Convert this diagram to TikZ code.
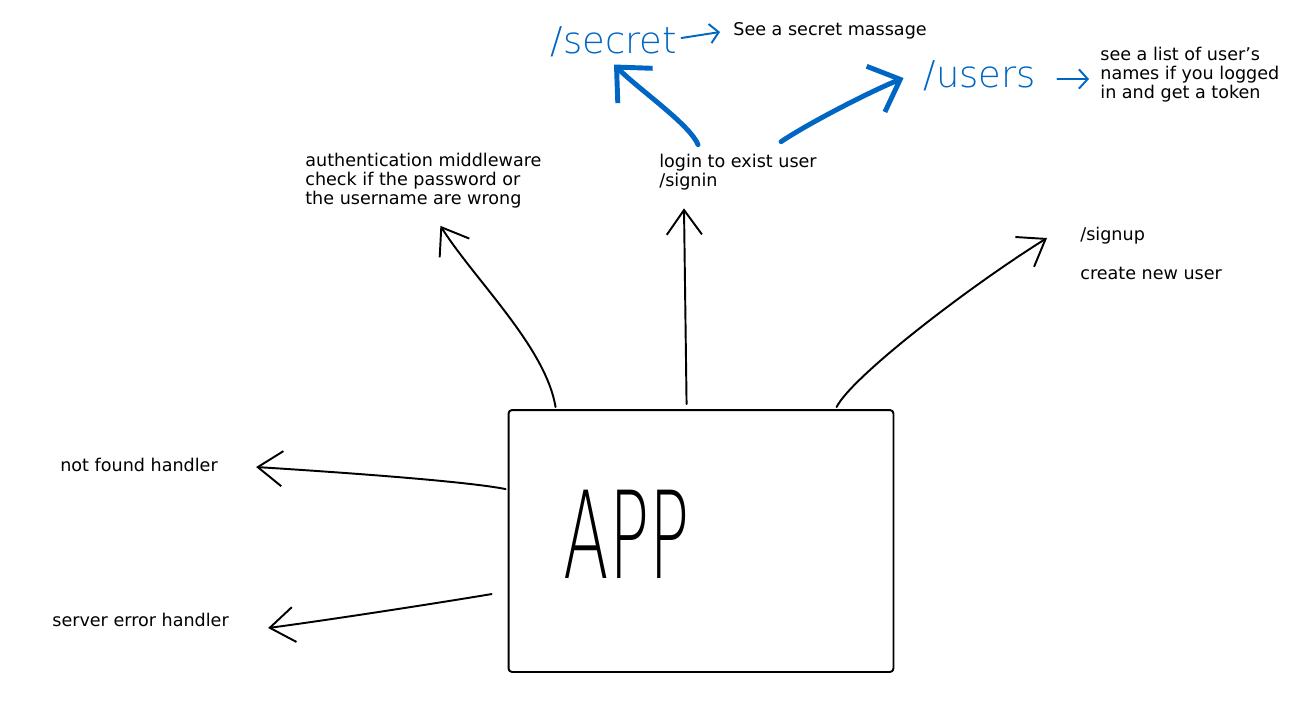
\documentclass[tikz,border=0pt]{standalone}
\usepackage{graphicx}
\usepackage{fontspec}
\setmainfont{DejaVu Sans}
\newfontfamily\thinfont{DejaVuSans-ExtraLight.ttf}
\usepackage{tikz}
\usetikzlibrary{arrows.meta,positioning,calc}
\definecolor{inkblue}{RGB}{0,102,196}

\begin{document}
\begin{tikzpicture}[x=0.02cm, y=-0.02cm,
    txt/.style={inner sep=0pt, anchor=west, align=left, font=\fontsize{10}{10.8}\selectfont},
    hand/.style={line width=1.1pt, line cap=round, line join=round},
    pen/.style={hand, -{Straight Barb[length=14pt,width=20pt]}},
    bigpen/.style={inkblue, line width=2.8pt, line cap=round, -{Straight Barb[length=15pt,width=28pt]}},
    thinpen/.style={inkblue, line width=1.1pt, line cap=round, -{Straight Barb[length=5pt,width=11pt]}},
    route/.style={inner sep=0pt, text=inkblue, font=\thinfont\fontsize{21}{21}\selectfont}]
  \useasboundingbox (0,0) rectangle (1308,701);

  \node[draw, hand, rounded corners=2pt, minimum width=7.7cm, minimum height=5.24cm] (app) at (701,541) {};
  \node[font=\thinfont\fontsize{69}{69}\selectfont] (apptxt) at (627,534) {\scalebox{0.55}[1]{APP}};

  \node[txt] (auth) at (305,181) {authentication middleware\\check if the password or\\the username are wrong};
  \node[txt] (signin) at (659,172) {login to exist user\\/signin};
  \node[txt] (signup) at (1080,236) {/signup};
  \node[txt] (newuser) at (1080,273) {create new user};
  \node[txt] (notfound) at (60,465) {not found handler};
  \node[txt] (servererr) at (52,620) {server error handler};

  \node[route] (secret) at (614,42) {/secret};
  \node[txt] (secretmsg) at (733,31) {See a secret massage};
  \node[route] (users) at (980,76) {/users};
  \node[txt] (userlist) at (1100,75) {see a list of user's\\names if you logged\\in and get a token};

  % routes out of the app
  \draw[pen] ($(app.north west)+(48,-2)$) .. controls +(-10,-60) and +(35,55) .. ($(auth.south)+(17,17)$);
  \draw[pen] ($(app.north west)+(179,-5)$) -- ($(signin.south west)+(25,18)$);
  \draw[pen] ($(app.north west)+(329,-2)$) .. controls +(15,-30) and +(-80,50) .. ($(signup.west)+(-33,2)$);
  \draw[pen] ($(app.north west)+(-2,80)$) .. controls +(-40,-8) and +(80,5) .. ($(notfound.east)+(38,2)$);
  \draw[pen] ($(app.north west)+(-16,185)$) .. controls +(-60,10) and +(60,-8) .. ($(servererr.east)+(39,8)$);

  % after signin
  \draw[bigpen] ($(signin.north west)+(39,-9)$) .. controls +(-8,-20) and +(25,25) .. ($(secret.south)+(0,7)$);
  \draw[bigpen] ($(signin.north east)+(-36,-12)$) .. controls +(30,-20) and +(-30,12) .. ($(users.west)+(-20,2)$);
  \draw[thinpen] ($(secret.east)+(4,-4)$) -- ($(secretmsg.west)+(-13,1)$);
  \draw[thinpen] ($(users.east)+(21,3)$) -- ($(userlist.west)+(-11,4)$);
\end{tikzpicture}
\end{document}
